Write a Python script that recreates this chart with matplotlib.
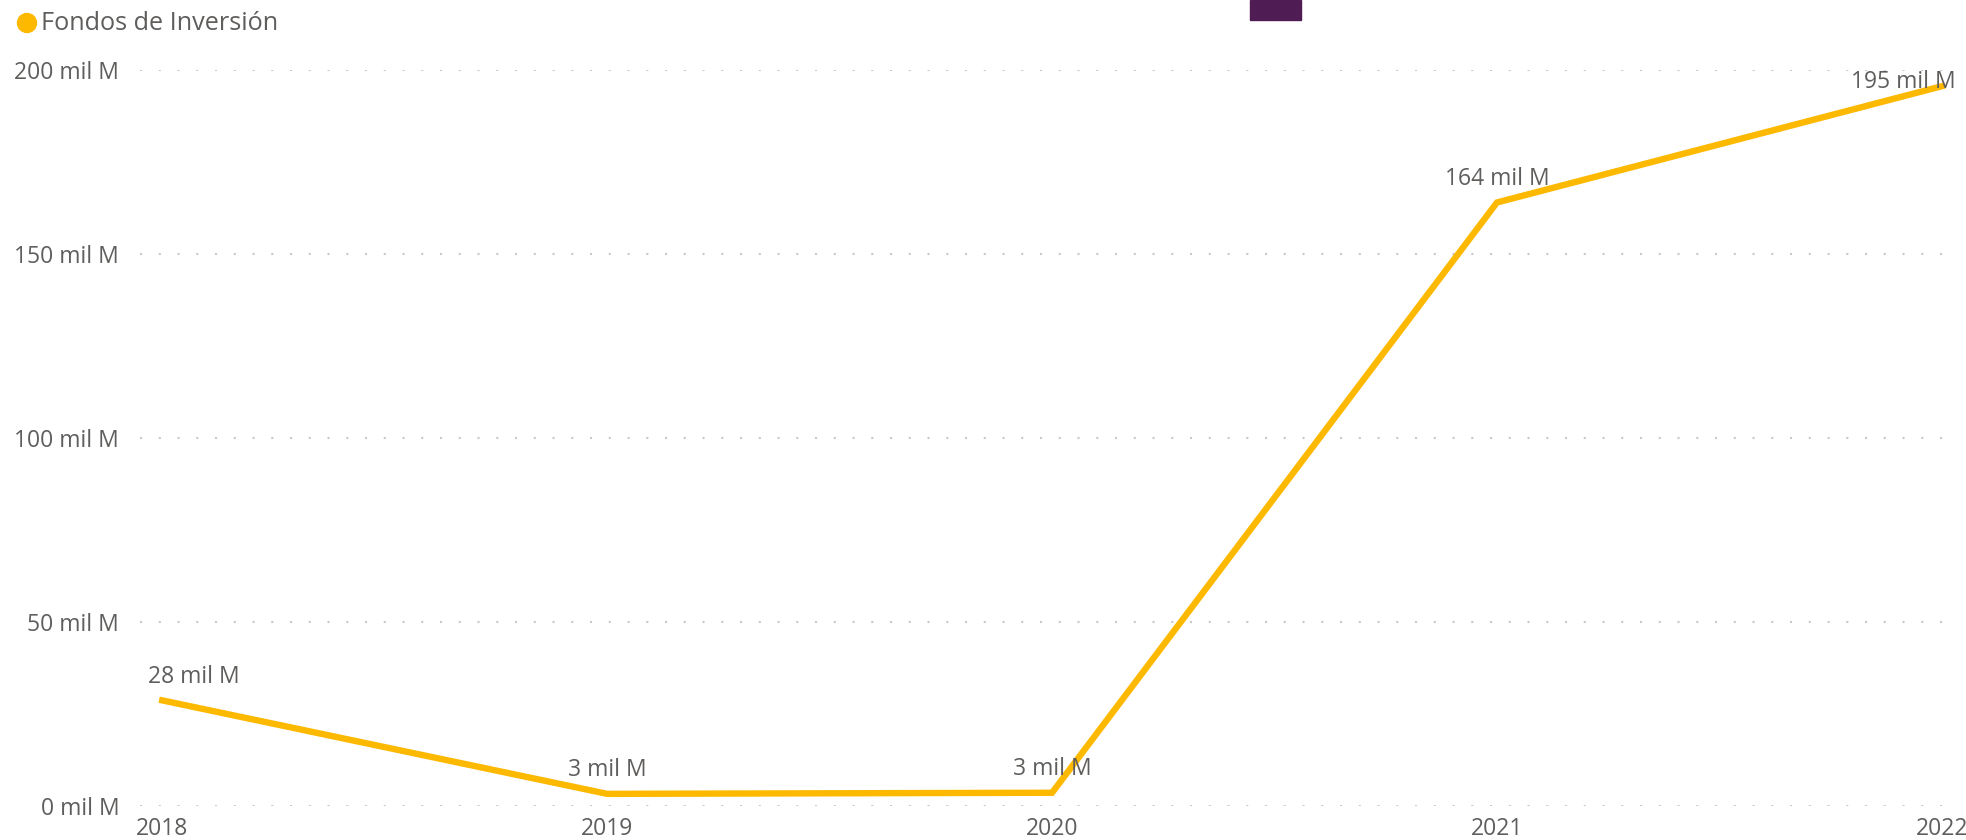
import matplotlib
matplotlib.use("Agg")
import matplotlib.pyplot as plt
from matplotlib.patches import Rectangle, Circle

# Datos (miles de millones)
anios = [2018, 2019, 2020, 2021, 2022]
valores = [28.7, 3.3, 3.6, 164.0, 195.6]
etiquetas = ['28 mil M', '3 mil M', '3 mil M', '164 mil M', '195 mil M']
yticks = [0, 50, 100, 150, 200]
ytick_labels = ['0 mil M', '50 mil M', '100 mil M', '150 mil M', '200 mil M']

AMARILLO = '#FDB900'
GRIS = '#605E5C'
FS = 16.5
plt.rcParams['font.family'] = ['Open Sans', 'DejaVu Sans']

W, H = 1966, 840
fig = plt.figure(figsize=(W / 100, H / 100), dpi=100)

# area del grafico en pixeles
x0, x1 = 140, 1953
y0, y1 = 806, 70
ax = fig.add_axes([x0 / W, 1 - y0 / H, (x1 - x0) / W, (y0 - y1) / H])

ax.plot(anios, valores, color=AMARILLO, linewidth=4.6, solid_joinstyle='miter', zorder=3)
ax.set_xlim(2017.95, 2022.025)
ax.set_ylim(0, 200)

ax.set_yticks(yticks)
ax.set_yticklabels(ytick_labels)
ax.set_xticks(anios)
ax.set_xticklabels([str(a) for a in anios])
ax.tick_params(length=0, labelsize=FS, labelcolor=GRIS)
ax.tick_params(axis='y', pad=15)
ax.tick_params(axis='x', pad=8)

ax.grid(axis='y', color='#C8C8C8', linestyle=(0, (1, 8)), linewidth=1.5)
ax.set_axisbelow(True)
for s in ax.spines.values():
    s.set_visible(False)

# etiquetas de datos
for i, (a, v, t) in enumerate(zip(anios, valores, etiquetas)):
    ha, dx, dy = 'center', 0, 17
    if i == 0:
        ha, dx = 'left', -10
    if i == len(anios) - 1:
        ha, dx, dy = 'right', 10, 3
    ax.annotate(t, (a, v), xytext=(dx, dy), textcoords='offset points',
                ha=ha, va='center', fontsize=FS, color=GRIS, clip_on=False, zorder=4)

# leyenda
ax_leg = fig.add_axes([0, 0, 1, 1], zorder=-1)
ax_leg.set_xlim(0, W)
ax_leg.set_ylim(H, 0)
ax_leg.axis('off')
ax_leg.add_patch(Circle((27, 23), 9.5, color=AMARILLO))
ax_leg.text(41, 24, 'Fondos de Inversión', fontsize=18.2, color=GRIS, va='center', ha='left')

# cuadro morado arriba
ax_leg.add_patch(Rectangle((1250, 0), 51, 20, color='#4F1D54'))

fig.savefig('out.png', dpi=100)
